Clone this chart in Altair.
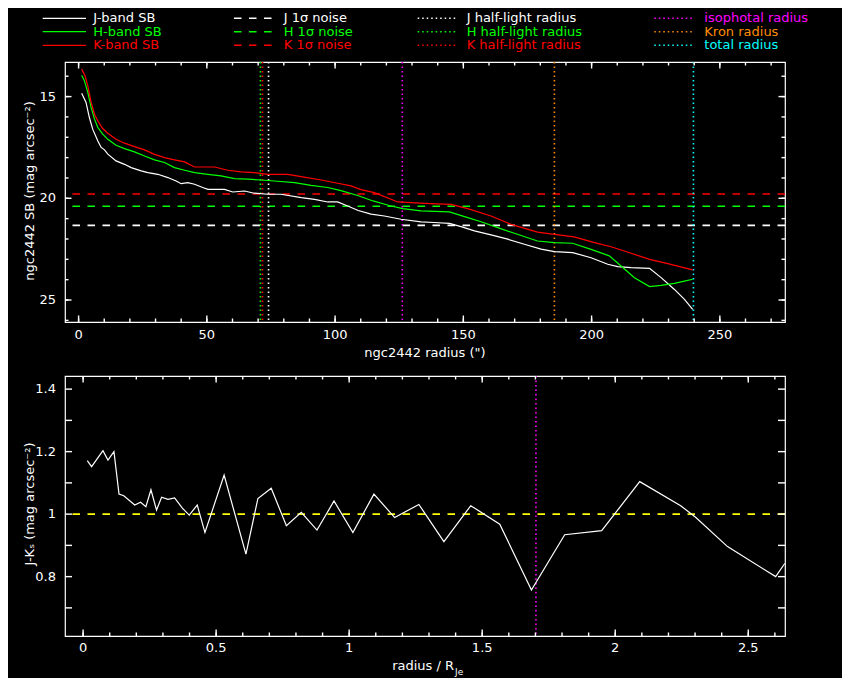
import altair as alt
import pandas as pd

# ---------------- data ----------------
j_radius = [1.2, 2.9, 4.2, 5.5, 7.5, 8.8, 10.1, 11.4, 14.6, 17.9, 20.5, 24.4, 27.0, 30.9, 34.8,
            38.0, 40.0, 42.6, 45.2, 48.4, 50.4, 56.9, 60.1, 64.7, 68.5, 73.8, 78.9, 86.8, 92.0,
            97.1, 101.0, 104.9, 109.0, 114.0, 119.2, 125.7, 133.5, 138.6, 144.6, 149.1, 154.3,
            160.8, 167.3, 173.8, 180.3, 185.5, 192.6, 199.8, 206.3, 210.2, 215.4, 222.6, 227.1,
            232.3, 236.2, 239.4]
j_sb = [14.84, 15.29, 16.03, 16.6, 17.18, 17.5, 17.62, 17.83, 18.16, 18.33, 18.49, 18.65, 18.74,
        18.82, 18.98, 19.15, 19.28, 19.23, 19.31, 19.47, 19.56, 19.56, 19.69, 19.64, 19.75, 19.8,
        19.8, 19.97, 20.05, 20.18, 20.18, 20.38, 20.6, 20.78, 20.87, 21.03, 21.16, 21.19, 21.23,
        21.39, 21.6, 21.8, 22.01, 22.26, 22.5, 22.62, 22.67, 22.92, 23.24, 23.36, 23.41, 23.44,
        23.9, 24.48, 24.97, 25.46]

h_radius = [1.2, 2.3, 3.6, 4.9, 6.2, 7.5, 9.4, 11.4, 14.6, 17.9, 21.8, 25.7, 29.6, 33.5, 37.4,
            41.3, 45.2, 50.4, 55.5, 60.8, 66.0, 71.1, 76.3, 84.2, 90.6, 97.1, 102.3, 108.8, 114.8,
            121.8, 126.4, 133.5, 144.6, 151.7, 156.9, 163.4, 169.9, 178.9, 185.5, 192.6, 199.8,
            206.9, 211.5, 216.7, 222.6, 227.1, 232.3, 236.2, 239.4]
h_sb = [13.95, 14.23, 14.8, 15.54, 16.11, 16.52, 16.85, 17.1, 17.39, 17.56, 17.72, 17.92, 18.11,
        18.24, 18.49, 18.62, 18.74, 18.82, 18.9, 19.03, 19.06, 19.1, 19.15, 19.23, 19.36, 19.47,
        19.62, 19.86, 20.13, 20.38, 20.51, 20.62, 20.67, 20.95, 21.15, 21.44, 21.72, 22.1, 22.18,
        22.21, 22.51, 22.83, 23.33, 23.9, 24.34, 24.28, 24.18, 24.07, 23.98]

k_radius = [1.2, 2.5, 3.6, 4.9, 6.2, 7.5, 9.4, 11.4, 14.6, 17.9, 21.8, 25.7, 29.6, 33.5, 37.4,
            41.3, 45.2, 53.0, 58.2, 63.4, 68.5, 73.8, 81.5, 86.8, 94.6, 101.0, 106.2, 110.1, 115.3,
            124.5, 134.8, 145.2, 151.7, 160.8, 168.6, 178.9, 185.5, 193.2, 201.1, 207.6, 215.4,
            222.6, 229.7, 239.4]
k_sb = [13.65, 13.98, 14.47, 15.29, 15.87, 16.2, 16.57, 16.8, 17.1, 17.29, 17.46, 17.62, 17.84,
        18.0, 18.11, 18.21, 18.46, 18.46, 18.62, 18.7, 18.74, 18.82, 18.82, 18.93, 19.1, 19.26,
        19.39, 19.57, 19.72, 20.18, 20.25, 20.3, 20.51, 20.87, 21.28, 21.66, 21.77, 21.9, 22.18,
        22.38, 22.7, 23.0, 23.21, 23.52]

noise_levels = [21.33, 20.39, 19.79]          # J, H, K 1-sigma noise (mag/arcsec^2)
radius_values = [74.05, 70.9, 71.7, 126.2, 185.5, 239.7]  # J,H,K half-light, isophotal, Kron, total

jk_x = [0.0157, 0.032, 0.0746, 0.0934, 0.116, 0.135, 0.153, 0.194, 0.216, 0.236, 0.255, 0.276,
        0.295, 0.319, 0.344, 0.373, 0.399, 0.429, 0.458, 0.53, 0.612, 0.657, 0.707, 0.764, 0.82,
        0.879, 0.943, 1.014, 1.093, 1.171, 1.262, 1.356, 1.457, 1.566, 1.685, 1.81, 1.949, 2.092,
        2.246, 2.303, 2.422, 2.603, 2.637]
jk_val = [1.171, 1.152, 1.203, 1.173, 1.2, 1.064, 1.059, 1.029, 1.038, 1.024, 1.078, 1.013, 1.054,
          1.047, 1.052, 1.019, 0.997, 1.029, 0.941, 1.125, 0.872, 1.05, 1.083, 0.963, 1.006, 0.949,
          1.042, 0.941, 1.064, 0.989, 1.031, 0.912, 1.027, 0.968, 0.757, 0.934, 0.947, 1.104,
          1.027, 0.989, 0.896, 0.8, 0.842]
jk_reference = [1.0]
iso_over_rje = [1.702]

# tick values / labels
top_x_major = [0, 50, 100, 150, 200, 250]
top_x_minor = [0, 10, 20, 30, 40, 50, 60, 70, 80, 90, 100, 110, 120, 130, 140, 150, 160, 170,
               180, 190, 200, 210, 220, 230, 240, 250, 260, 270]
top_y_major = [15, 20, 25]
top_y_minor = [14, 15, 16, 17, 18, 19, 20, 21, 22, 23, 24, 25, 26]
bot_x_major = [0, 0.5, 1, 1.5, 2, 2.5]
bot_x_minor = [0, 0.1, 0.2, 0.3, 0.4, 0.5, 0.6, 0.7, 0.8, 0.9, 1.0, 1.1, 1.2, 1.3, 1.4, 1.5,
               1.6, 1.7, 1.8, 1.9, 2.0, 2.1, 2.2, 2.3, 2.4, 2.5, 2.6]
bot_y_major = [0.8, 1.0, 1.2, 1.4]
bot_y_minor = [0.7, 0.8, 0.9, 1.0, 1.1, 1.2, 1.3, 1.4]

legend_col1 = ["J-band SB", "H-band SB", "K-band SB"]
legend_col2 = ["J 1σ noise", "H 1σ noise", "K 1σ noise"]
legend_col3 = ["J half-light radius", "H half-light radius", "K half-light radius"]
legend_col4 = ["isophotal radius", "Kron radius", "total radius"]

# ---------------- styling ----------------
W, H = 720, 260
FONT = "DejaVu Sans"
FS = 13
WHITE, GREEN, RED = "#ffffff", "#00ff00", "#ff0000"
MAGENTA, ORANGE, CYAN, YELLOW = "#ff00ff", "#ff8c00", "#00ffff", "#ffff00"
band_colors = [WHITE, GREEN, RED]
radius_colors = [WHITE, GREEN, RED, MAGENTA, ORANGE, CYAN]
DASH = [7.5, 7.5]
DOT = [1.5, 3]
LW = 1.2      # curves
RW = 1.6      # dashed / dotted reference lines
TW = 1.4      # tick width

top_xs = alt.Scale(domain=[-5.3, 275.4], nice=False, zero=False)
top_ys = alt.Scale(domain=[13.3, 26.08], nice=False, zero=False, reverse=True)
bot_xs = alt.Scale(domain=[-0.068, 2.638], nice=False, zero=False)
bot_ys = alt.Scale(domain=[0.61, 1.442], nice=False, zero=False)


def x_ticks(values, xs, length, name):
    """Inward ticks on the bottom and top frame edges, placed through the x scale."""
    out = []
    for k, (y1, y2) in enumerate([(H, H - length), (0, length)]):
        col = f"{name}_x{k}"
        df = pd.DataFrame({col: values})
        out.append(alt.Chart(df).mark_rule(color=WHITE, strokeWidth=TW).encode(
            x=alt.X(f"{col}:Q", scale=xs, axis=None), y=alt.value(y1), y2=alt.value(y2)))
    return out


def y_ticks(values, ys, length, name):
    """Inward ticks on the left and right frame edges, placed through the y scale."""
    out = []
    for k, (x1, x2) in enumerate([(0, length), (W, W - length)]):
        col = f"{name}_y{k}"
        df = pd.DataFrame({col: values})
        out.append(alt.Chart(df).mark_rule(color=WHITE, strokeWidth=TW).encode(
            y=alt.Y(f"{col}:Q", scale=ys, axis=None), x=alt.value(x1), x2=alt.value(x2)))
    return out


def x_labels(values, xs, pad, name):
    col = f"{name}_xl"
    return alt.Chart(pd.DataFrame({col: values})).mark_text(
        align="center", baseline="alphabetic", font=FONT, fontSize=FS, color=WHITE).encode(
        x=alt.X(f"{col}:Q", scale=xs, axis=None), y=alt.value(H + pad),
        text=alt.Text(f"{col}:Q", format="~r"))


def y_labels(values, ys, pad, name):
    col = f"{name}_yl"
    return alt.Chart(pd.DataFrame({col: values})).mark_text(
        align="right", baseline="middle", font=FONT, fontSize=FS, color=WHITE).encode(
        y=alt.Y(f"{col}:Q", scale=ys, axis=None), x=alt.value(-pad),
        text=alt.Text(f"{col}:Q", format="~r"))


def text_layer(txt, x, y, align="left", baseline="middle", angle=0, size=FS, color=WHITE):
    kw = dict(align=align, baseline=baseline, font=FONT, fontSize=size, color=color)
    if angle:
        kw["angle"] = angle
    return alt.Chart(pd.DataFrame({"t": [txt]})).mark_text(**kw).encode(
        text="t:N", x=alt.value(x), y=alt.value(y))


def sample_layer(x1, x2, y, color, dash=None, width=RW):
    kw = dict(color=color, strokeWidth=width)
    if dash:
        kw["strokeDash"] = dash
    return alt.Chart(pd.DataFrame({"s": [0]})).mark_rule(**kw).encode(
        x=alt.value(x1), x2=alt.value(x2), y=alt.value(y))


def anchor_layer(x, y):
    return alt.Chart(pd.DataFrame({"s": [0]})).mark_rule(opacity=0, strokeWidth=0).encode(
        x=alt.value(x), x2=alt.value(x), y=alt.value(y), y2=alt.value(y))


# ---------------- top panel ----------------
df_j = pd.DataFrame({"r": j_radius, "sb": j_sb})
df_h = pd.DataFrame({"r": h_radius, "sb": h_sb})
df_k = pd.DataFrame({"r": k_radius, "sb": k_sb})

top_layers = []
for lvl, col in zip(noise_levels, band_colors):
    top_layers.append(alt.Chart(pd.DataFrame({"sb": [lvl]})).mark_rule(
        color=col, strokeWidth=RW, strokeDash=DASH).encode(
        y=alt.Y("sb:Q", scale=top_ys, axis=None)))
for rv, col in zip(radius_values, radius_colors):
    top_layers.append(alt.Chart(pd.DataFrame({"r": [rv]})).mark_rule(
        color=col, strokeWidth=RW, strokeDash=DOT).encode(
        x=alt.X("r:Q", scale=top_xs, axis=None)))
for df, col in zip([df_j, df_h, df_k], band_colors):
    top_layers.append(alt.Chart(df).mark_line(color=col, strokeWidth=LW).encode(
        x=alt.X("r:Q", scale=top_xs, axis=None),
        y=alt.Y("sb:Q", scale=top_ys, axis=None)))

# inward ticks and tick labels
top_layers += x_ticks(top_x_minor, top_xs, 3.5, "tmin") + x_ticks(top_x_major, top_xs, 6.5, "tmaj")
top_layers += y_ticks(top_y_minor, top_ys, 3.5, "tmin") + y_ticks(top_y_major, top_ys, 6.5, "tmaj")
top_layers += [x_labels(top_x_major, top_xs, 17, "top"), y_labels(top_y_major, top_ys, 9, "top")]

# legend
rows_y = [-43.7, -30.3, -16.7]
for i, yy in enumerate(rows_y):
    top_layers.append(sample_layer(-22.3, 21, yy, band_colors[i], width=LW))
    top_layers.append(text_layer(legend_col1[i], 28.3, yy, color=band_colors[i]))
    top_layers.append(sample_layer(169, 213, yy, band_colors[i], DASH))
    top_layers.append(text_layer(legend_col2[i], 218.7, yy, color=band_colors[i]))
    top_layers.append(sample_layer(352.7, 391, yy, band_colors[i], DOT))
    top_layers.append(text_layer(legend_col3[i], 401.7, yy, color=band_colors[i]))
    top_layers.append(sample_layer(589.3, 629.3, yy, radius_colors[3 + i], DOT))
    top_layers.append(text_layer(legend_col4[i], 639.3, yy, color=radius_colors[3 + i]))

# axis titles
top_layers.append(text_layer('ngc2442 radius (")', W / 2, H + 35, align="center",
                             baseline="alphabetic"))
top_layers.append(text_layer("ngc2442 SB (mag arcsec⁻²)", -31.5, 129, align="center",
                             baseline="alphabetic", angle=270))
# invisible layout anchors (fix the chart origin and the black canvas extent)
top_layers.append(anchor_layer(-56, -53))
top_layers.append(anchor_layer(776, -53))

top = alt.layer(*top_layers).properties(width=W, height=H)

# ---------------- bottom panel ----------------
df_jk = pd.DataFrame({"x": jk_x, "v": jk_val})
bot_layers = [
    alt.Chart(pd.DataFrame({"v": jk_reference})).mark_rule(
        color=YELLOW, strokeWidth=RW, strokeDash=DASH).encode(
        y=alt.Y("v:Q", scale=bot_ys, axis=None)),
    alt.Chart(pd.DataFrame({"x": iso_over_rje})).mark_rule(
        color=MAGENTA, strokeWidth=RW, strokeDash=DOT).encode(
        x=alt.X("x:Q", scale=bot_xs, axis=None)),
    alt.Chart(df_jk).mark_line(color=WHITE, strokeWidth=LW).encode(
        x=alt.X("x:Q", scale=bot_xs, axis=None),
        y=alt.Y("v:Q", scale=bot_ys, axis=None)),
]
bot_layers += x_ticks(bot_x_minor, bot_xs, 3.5, "bmin") + x_ticks(bot_x_major, bot_xs, 6.5, "bmaj")
bot_layers += y_ticks(bot_y_minor, bot_ys, 7, "bmin")
bot_layers += [x_labels(bot_x_major, bot_xs, 16.3, "bot"), y_labels(bot_y_major, bot_ys, 9, "bot")]
bot_layers.append(text_layer("radius / R", 389, 294.3, align="right", baseline="alphabetic"))
bot_layers.append(text_layer("Je", 390, 298.5, align="left", baseline="alphabetic", size=9))
bot_layers.append(text_layer("J-Kₛ (mag arcsec⁻²)", -31.5, 128, align="center",
                             baseline="alphabetic", angle=270))

bottom = alt.layer(*bot_layers).properties(width=W, height=H)

chart = alt.vconcat(top, bottom, spacing=54, bounds="flush").properties(
    padding={"left": 0, "top": 0, "right": 0, "bottom": 0},
    background="black",
).configure_view(stroke=WHITE, strokeWidth=1.2, fill="black")

chart.save("out.html", embed_options={"renderer": "svg", "actions": False})
